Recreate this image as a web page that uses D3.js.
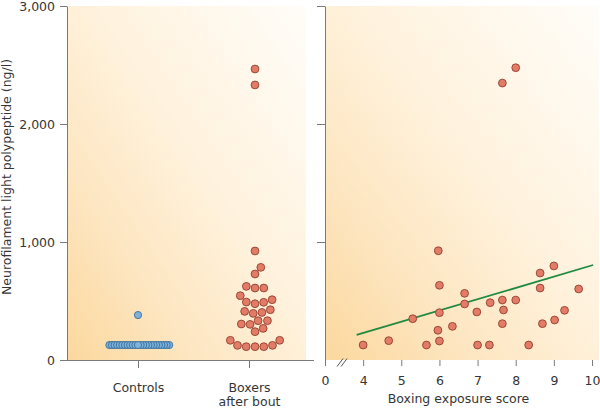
<!DOCTYPE html>
<html><head><meta charset="utf-8">
<script src="https://cdn.jsdelivr.net/npm/d3@7"></script>
<style>
body{margin:0;background:#fff}
svg{display:block}
text{font-family:"DejaVu Sans",sans-serif;font-size:12.5px;fill:#353535}
</style>
</head><body>
<svg id="chart" width="600" height="408"></svg>
<script>
// ---------- data ----------
const categories = ["Controls", "Boxers after bout"];
const controlsNfl = [127,127,127,127,127,127,127,127,127,127,127,127,127,127,127,127,127,127,127,127,127,127,127,127,381];
const boxersNfl = [2466,2331,924,785,729,610,610,624,545,489,477,491,511,412,395,426,403,305,333,333,302,268,240,167,124,113,113,113,124,167];
const exposureScore = [8.0,7.65,5.97,6.0,6.66,6.66,5.3,6.0,6.34,5.96,6.0,4.0,4.67,5.66,6.98,7.0,7.31,7.33,7.65,7.68,7.65,8.0,8.34,8.64,8.64,8.7,9.0,9.02,9.28,9.65];
const exposureNfl = [2477,2347,926,633,565,475,350,401,285,252,161,127,164,127,407,127,127,486,508,424,308,508,127,737,610,308,797,339,421,602];
const fitX = [3.83, 10.03];
const fitY = [212, 805];
const yTicks = [0, 1000, 2000, 3000];
const xTicks = [3, 4, 5, 6, 7, 8, 9, 10];
const xTickLabels = ["0", "4", "5", "6", "7", "8", "9", "10"];
const yTitle = "Neurofilament light polypeptide (ng/l)";
const xTitle = "Boxing exposure score";

// ---------- setup ----------
const svg = d3.select("#chart");
const axisColor = "#7a7a7a";
const red = {fill: "#e27c66", stroke: "#93402f"};
const blue = {fill: "#7db2dc", stroke: "#2f6592"};

const defs = svg.append("defs");
const grad = defs.append("linearGradient").attr("id", "bg")
  .attr("x1", 0).attr("y1", 1).attr("x2", 1).attr("y2", 0);
grad.append("stop").attr("offset", 0).attr("stop-color", "#fcd89e");
grad.append("stop").attr("offset", 0.25).attr("stop-color", "#fde5bf");
grad.append("stop").attr("offset", 0.55).attr("stop-color", "#fff2dd");
grad.append("stop").attr("offset", 1).attr("stop-color", "#fffdf9");

const y = d3.scaleLinear().domain([0, 3000]).range([360, 6]);
const xCat = d3.scalePoint().domain(categories).range([138, 249]);
const xLin = d3.scaleLinear().domain([3, 10]).range([325, 592]);

// panel backgrounds
svg.append("rect").attr("x", 68).attr("y", y(3000)).attr("width", 238).attr("height", y(0) - y(3000)).attr("fill", "url(#bg)");
svg.append("rect").attr("x", 326).attr("y", y(3000)).attr("width", 273).attr("height", y(0) - y(3000)).attr("fill", "url(#bg)");

// ---------- left panel axes ----------
const yAxisL = svg.append("g").attr("transform", "translate(67,0)")
  .call(d3.axisLeft(y).tickValues(yTicks).tickSize(7).tickSizeOuter(0).tickPadding(5).tickFormat(d3.format(",")));
svg.append("line").attr("x1", 60).attr("x2", 314).attr("y1", 360.5).attr("y2", 360.5).attr("stroke", axisColor);

const xAxisL = svg.append("g").attr("transform", "translate(0,360)")
  .call(d3.axisBottom(xCat).tickSize(8).tickSizeOuter(0));
xAxisL.select(".domain").remove();
xAxisL.selectAll(".tick text").each(function(d) {
  const t = d3.select(this).text(null).attr("y", null).attr("dy", null);
  const lines = d === "Boxers after bout" ? ["Boxers", "after bout"] : [d];
  lines.forEach((s, i) => t.append("tspan").attr("x", 0).attr("y", 31.5 + i * 14).text(s));
});

// ---------- right panel axes ----------
const yAxisR = svg.append("g").attr("transform", "translate(325,0)")
  .call(d3.axisLeft(y).tickValues(yTicks.slice(1)).tickSize(8).tickSizeOuter(0).tickFormat(""));
const xAxisR = svg.append("g").attr("transform", "translate(0,360)")
  .call(d3.axisBottom(xLin).tickValues(xTicks).tickSize(6).tickPadding(10).tickFormat((d, i) => xTickLabels[i]));
xAxisR.select(".domain").remove();

[yAxisL, xAxisL, yAxisR, xAxisR].forEach(g => {
  g.selectAll("path,line").attr("stroke", axisColor);
  g.selectAll("text").attr("fill", "#353535").style("font-size", "12.5px").style("font-family", "DejaVu Sans");
});

// axis break marks
const bx = xLin(3.5);
[-4, 0].forEach(o => {
  svg.append("line").attr("x1", bx + o - 3).attr("y1", 366.5).attr("x2", bx + o + 3).attr("y2", 358.5)
    .attr("stroke", "#555").attr("stroke-width", 1);
});

// titles
svg.append("text").attr("transform", "translate(10.5,177) rotate(-90)").attr("text-anchor", "middle").text(yTitle);
svg.append("text").attr("x", (xLin.range()[0] + xLin.range()[1]) / 2).attr("y", 403).attr("text-anchor", "middle").text(xTitle);

// ---------- swarm layout ----------
function swarm(values, D) {
  const order = d3.range(values.length).sort((a, b) => values[a] - values[b]);
  const placed = [];
  const out = new Array(values.length);
  for (const i of order) {
    const yi = y(values[i]);
    const iv = [];
    for (const p of placed) {
      const dy = Math.abs(p.y - yi);
      if (dy < D) { const w = Math.sqrt(D * D - dy * dy); iv.push([p.x - w, p.x + w]); }
    }
    const cands = [0];
    iv.forEach(([a, b]) => cands.push(a, b));
    cands.sort((a, b) => Math.abs(a) - Math.abs(b) || b - a);
    let best = 0;
    for (const c of cands) {
      if (iv.every(([a, b]) => !(c > a + 1e-6 && c < b - 1e-6))) { best = c; break; }
    }
    placed.push({x: best, y: yi});
    out[i] = {dx: best, v: values[i]};
  }
  return out;
}

const ctrl = swarm(controlsNfl, 2.6).sort((a, b) => Math.abs(b.dx) - Math.abs(a.dx));
svg.append("g").selectAll("circle").data(ctrl).join("circle")
  .attr("cx", d => xCat("Controls") + d.dx).attr("cy", d => y(d.v)).attr("r", 3.6)
  .attr("fill", blue.fill).attr("stroke", blue.stroke).attr("stroke-width", 0.8);

const boxerShift = 6;
const box = swarm(boxersNfl, 8.8);
svg.append("g").selectAll("circle").data(box).join("circle")
  .attr("cx", d => xCat("Boxers after bout") + boxerShift + d.dx).attr("cy", d => y(d.v)).attr("r", 3.9)
  .attr("fill", red.fill).attr("stroke", red.stroke).attr("stroke-width", 0.9);

// ---------- right panel marks ----------
svg.append("line")
  .attr("x1", xLin(fitX[0])).attr("y1", y(fitY[0])).attr("x2", xLin(fitX[1])).attr("y2", y(fitY[1]))
  .attr("stroke", "#1f8a3f").attr("stroke-width", 1.8);

svg.append("g").selectAll("circle").data(exposureScore).join("circle")
  .attr("cx", d => xLin(d)).attr("cy", (d, i) => y(exposureNfl[i])).attr("r", 3.9)
  .attr("fill", red.fill).attr("stroke", red.stroke).attr("stroke-width", 0.9);
</script>
</body></html>
